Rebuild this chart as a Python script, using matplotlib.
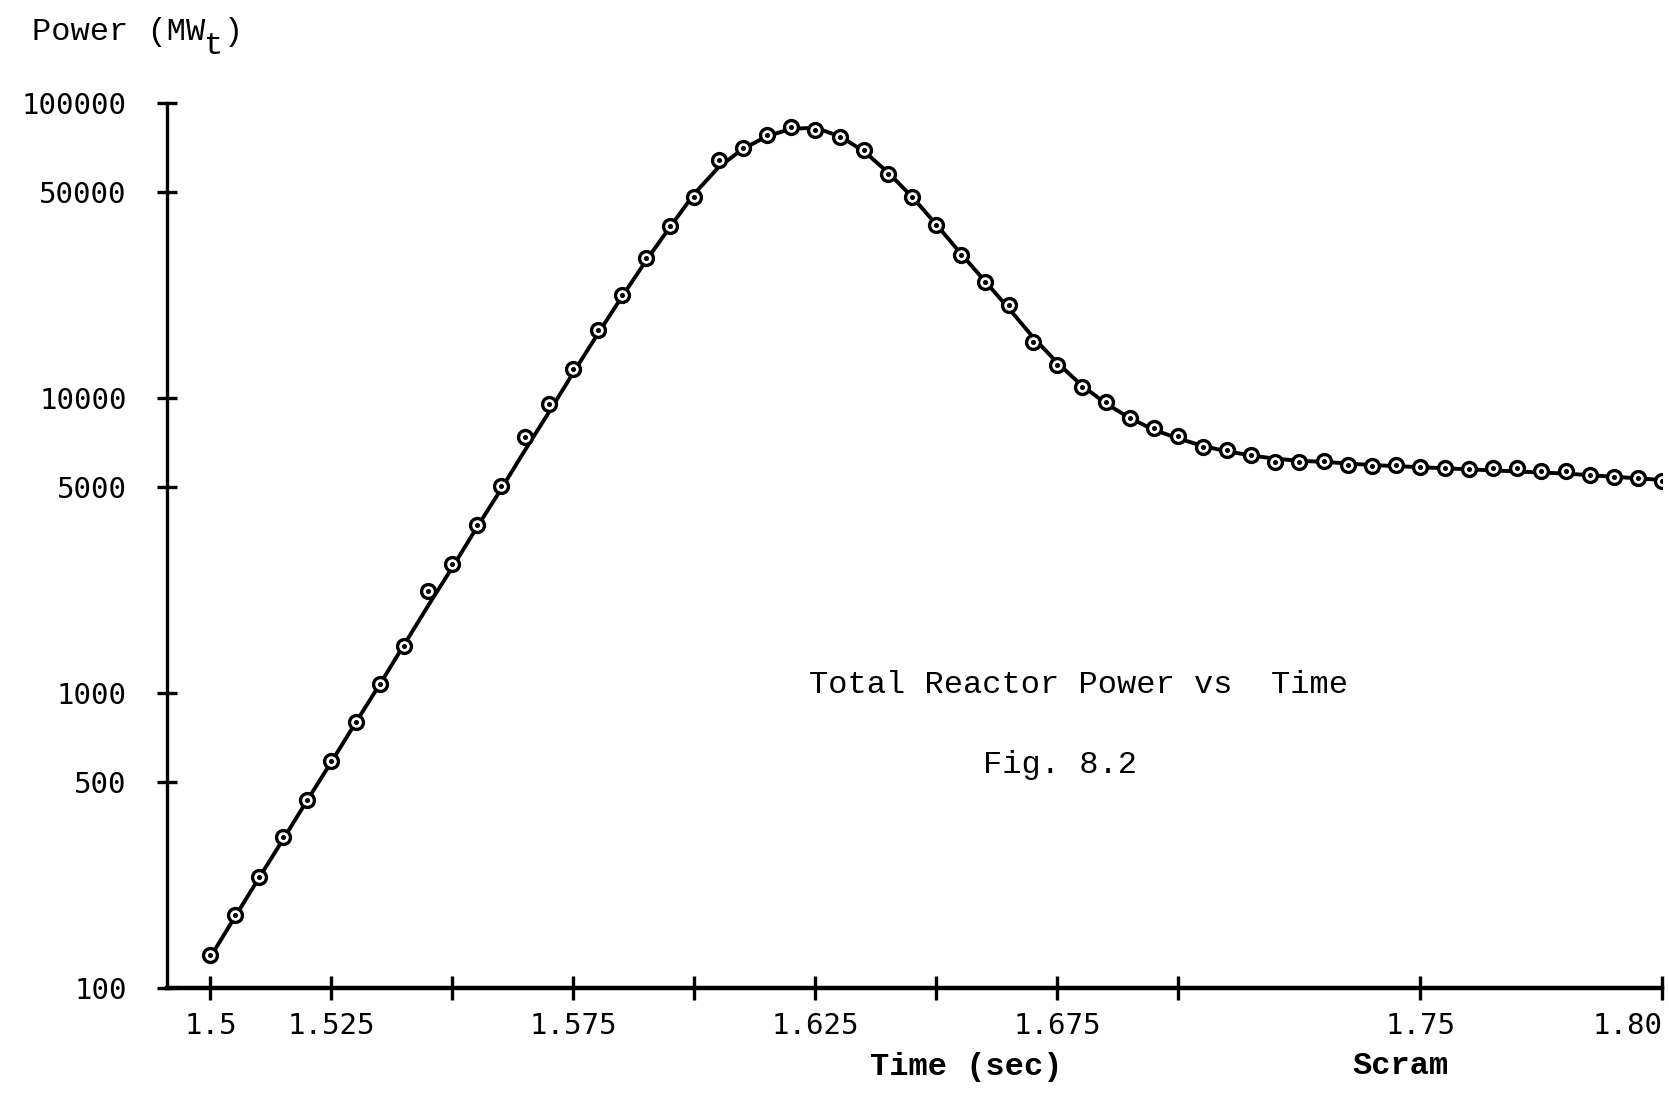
import matplotlib

matplotlib.use("Agg")
import matplotlib.pyplot as plt

# time points (sec) of the plotted results
time_s = [
    1.500, 1.505, 1.510, 1.515, 1.520, 1.525, 1.530, 1.535, 1.540, 1.545,
    1.550, 1.555, 1.560, 1.565, 1.570, 1.575, 1.580, 1.585, 1.590, 1.595,
    1.600, 1.605, 1.610, 1.615, 1.620, 1.625, 1.630, 1.635, 1.640, 1.645,
    1.650, 1.655, 1.660, 1.665, 1.670, 1.675, 1.680, 1.685, 1.690, 1.695,
    1.700, 1.705, 1.710, 1.715, 1.720, 1.725, 1.730, 1.735, 1.740, 1.745,
    1.750, 1.755, 1.760, 1.765, 1.770, 1.775, 1.780, 1.785, 1.790, 1.795,
    1.800,
]

# plotted points (MWt)
power_points = [
    129, 176, 237, 323, 432, 588, 799, 1069, 1441, 2222,
    2734, 3718, 5017, 7353, 9513, 12520, 17020, 22400, 29960, 38450,
    48120, 64390, 70550, 77950, 83290, 81230, 76660, 69380, 57770, 48120,
    38770, 30460, 24750, 20610, 15540, 12940, 10870, 9674, 8540, 7925,
    7413, 6823, 6655, 6385, 6074, 6074, 6124, 5924, 5875, 5924,
    5826, 5777, 5730, 5777, 5777, 5635, 5635, 5497, 5407, 5362,
    5229,
]

# hand drawn curve through the points (MWt)
power_curve = [
    127, 173, 235, 318, 432, 583, 792, 1069, 1454, 1977,
    2667, 3627, 4893, 6655, 8978, 12210, 16470, 22030, 29220, 38130,
    49340, 60730, 69960, 77300, 81910, 82600, 77300, 68790, 58270, 48120,
    38770, 30970, 24960, 20100, 16060, 13160, 11050, 9592, 8540, 7794,
    7292, 6879, 6599, 6385, 6228, 6124, 6074, 5998, 5924, 5875,
    5826, 5777, 5730, 5682, 5635, 5589, 5543, 5474, 5407, 5339,
    5272,
]

y_ticks = [100, 500, 1000, 5000, 10000, 50000, 100000]
y_tick_labels = ["100", "500", "1000", "5000", "10000", "50000", "100000"]
x_ticks = [1.5, 1.525, 1.55, 1.575, 1.6, 1.625, 1.65, 1.675, 1.7, 1.75, 1.8]
x_tick_labels = ["1.5", "1.525", "", "1.575", "", "1.625", "", "1.675", "", "1.75", "1.80"]

TYPE_FONT = "Liberation Mono"
TICK_FONT = "DejaVu Sans Mono"

fig = plt.figure(figsize=(16.69, 10.94), dpi=100)
ax = fig.add_axes([0.100, 0.0973, 0.896, 0.8083])

ax.plot(time_s, power_curve, color="black", linewidth=2.8, zorder=2)
ax.plot(
    time_s, power_points, linestyle="none", marker="o", markersize=10,
    markerfacecolor="white", markeredgecolor="black", markeredgewidth=2.4,
    zorder=3,
)
ax.plot(time_s, power_points, linestyle="none", marker="o", markersize=2.6,
        color="black", zorder=4)

ax.set_yscale("log")
ax.set_ylim(100, 100000)
ax.set_xlim(1.491, 1.8)

ax.set_yticks(y_ticks)
ax.set_yticklabels(y_tick_labels, fontfamily=TICK_FONT, fontsize=21)
ax.minorticks_off()
ax.set_xticks(x_ticks)
ax.set_xticklabels(x_tick_labels, fontfamily=TICK_FONT, fontsize=21)
ax.get_xticklabels()[-1].set_ha("right")

ax.tick_params(axis="y", direction="inout", length=14, width=2.4, pad=22)
ax.tick_params(axis="x", direction="inout", length=17, width=2.4, pad=9)

for side in ("top", "right"):
    ax.spines[side].set_visible(False)
ax.spines["left"].set_linewidth(2.4)
ax.spines["bottom"].set_linewidth(3.2)
ax.patch.set_alpha(0)

# typed labels
type_kw = dict(fontfamily=TYPE_FONT, fontsize=23, color="black")
cw = 23 * 0.6 / 72 / 16.69
fig.text(0.019, 0.971, "Power (MW", ha="left", va="center", **type_kw)
fig.text(0.019 + 9 * cw, 0.958, "t", ha="left", va="center", **type_kw)
fig.text(0.019 + 10 * cw, 0.971, ")", ha="left", va="center", **type_kw)

fig.text(0.646, 0.3735, "Total Reactor Power vs  Time", ha="center", va="center", **type_kw)
fig.text(0.635, 0.3006, "Fig. 8.2", ha="center", va="center", **type_kw)
fig.text(0.579, 0.0243, "Time (sec)", ha="center", va="center", fontweight="bold",
         fontfamily=TYPE_FONT, fontsize=23)
fig.text(0.839, 0.026, "Scram", ha="center", va="center", fontweight="bold",
         fontfamily=TYPE_FONT, fontsize=23)

fig.savefig("out.png", dpi=100, facecolor="white")
